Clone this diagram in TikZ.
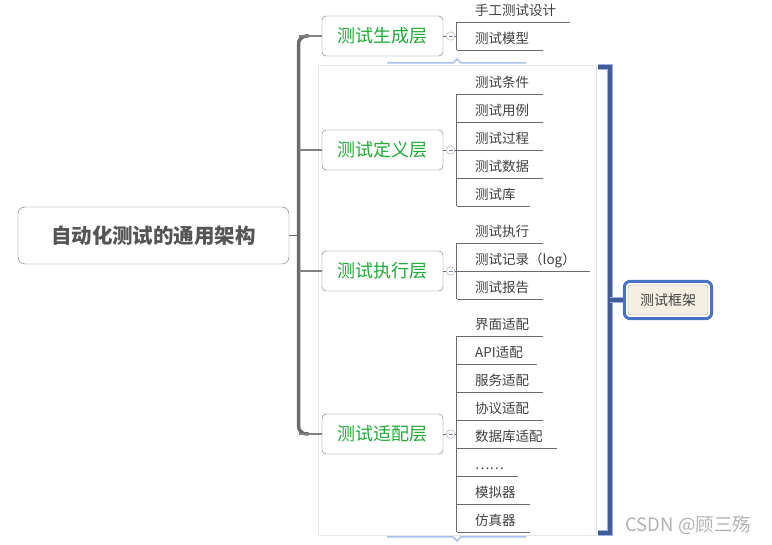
\documentclass[tikz,border=0pt]{standalone}
\usepackage{fontspec}
\setmainfont{Noto Sans CJK SC}
\usepackage{tikz}
\usetikzlibrary{positioning,fit,calc}
\definecolor{inkgray}{HTML}{555555}
\definecolor{leafgray}{HTML}{404040}
\definecolor{layergreen}{HTML}{22AA38}
\definecolor{linegray}{HTML}{6B6B6B}
\definecolor{framegray}{HTML}{E6E6E6}
\definecolor{selblue}{HTML}{A9C1EC}
\definecolor{bracketblue}{HTML}{3F5B9C}
\definecolor{ringblue}{HTML}{4A72C4}
\definecolor{paper}{HTML}{F4EFE3}
\tikzset{
  rootbox/.style={draw=linegray,rounded corners=7pt,fill=white,minimum width=271pt,
                  minimum height=57pt,font=\fontsize{20.5}{24}\selectfont\bfseries,text=inkgray},
  layerbox/.style={draw=linegray,rounded corners=4pt,fill=white,minimum width=121pt,
                   minimum height=40pt,font=\fontsize{18}{22}\selectfont,text=layergreen},
  leaf/.style={anchor=south west,inner xsep=14pt,inner ysep=6.5pt,text depth=0pt,
               font=\fontsize{13.5}{16}\selectfont,text=leafgray},
  fold/.style={circle,draw=gray!70,fill=white,minimum size=8.5pt,inner sep=0pt,
               path picture={\draw[selblue!70!black,line width=0.7pt]
                 ([xshift=-2pt]path picture bounding box.center) -- ([xshift=2pt]path picture bounding box.center);}},
  twig/.style={linegray,line width=0.9pt},
  trunkline/.style={linegray,line width=3.5pt},
  branch/.style={linegray!85,line width=1.6pt},
  sumbox/.style={draw=gray!80,rounded corners=3pt,fill=paper,minimum width=80pt,
                 minimum height=30pt,font=\fontsize{14}{17}\selectfont,text=leafgray},
  sumring/.style={draw=ringblue,line width=3pt,rounded corners=6pt,inner sep=3.5pt},
  brace/.style={bracketblue,line width=4.5pt,line join=miter,
                preaction={draw,ringblue!55,line width=6.5pt}},
}

\begin{document}
\begin{tikzpicture}[x=1pt,y=-1pt]
\useasboundingbox (0,0) rectangle (772,545);

% --- selection frame round the lower three layers ---
\draw[framegray,line width=0.7pt] (318,65) rectangle (596,535);
\draw[selblue,line width=1.5pt] (387,63) -- (453,63) -- (457,59) -- (461,63) -- (526,63);
\draw[selblue,line width=1.5pt] (387,537) -- (453,537) -- (457,541) -- (461,537) -- (526,537);

% --- root and the four layers ---
\node[rootbox] (root) at (153.5,235.5) {自动化测试的通用架构};
\node[layerbox] (gen) at (382.5,36)  {测试生成层};
\node[layerbox] (def) at (382.5,150) {测试定义层};
\node[layerbox] (exe) at (382.5,271) {测试执行层};
\node[layerbox] (ada) at (382.5,434) {测试适配层};

\coordinate (spine) at (298.5,235.5);
\draw[twig] (root.east) -- (spine);
\draw[trunkline,rounded corners=8pt] ($(spine |- gen.west)+(10,0)$) -| (spine) |- ($(spine |- ada.west)+(10,0)$);
\foreach \l in {gen,def,exe,ada}
  \draw[branch] (spine |- \l.west) -- (\l.west);

% --- leaves ---
\foreach \t [count=\i] in {手工测试设计,测试模型}
  \node[leaf] (gen-\i) at (461,{22+28*(\i-1)}) {\t};
\foreach \t [count=\i] in {测试条件,测试用例,测试过程,测试数据,测试库}
  \node[leaf] (def-\i) at (461,{94+28*(\i-1)}) {\t};
\foreach \t [count=\i] in {测试执行,测试记录（log）,测试报告}
  \node[leaf] (exe-\i) at (461,{243+28*(\i-1)}) {\t};
\foreach \t [count=\i] in {界面适配,API适配,服务适配,协议适配,数据库适配,……,模拟器,仿真器}
  \node[leaf] (ada-\i) at (461,{336+28*(\i-1)}) {\t};

\foreach \l/\n in {gen/2,def/5,exe/3,ada/8} {
  \node[fold,right=3pt of \l] (\l-fold) {};
  \coordinate (\l-bus) at ([xshift=6pt]\l-fold.center);
  \draw[twig] (\l.east) -- (\l-fold) (\l-fold) -- (\l-bus);
  \draw[twig] (\l-1.south -| \l-bus) -- (\l-\n.south -| \l-bus);
  \foreach \i in {1,...,\n}
    \draw[twig] (\l-\i.south -| \l-bus) -- (\l-\i.south east);
}

% --- summary bracket ---
\node[sumbox] (fw) at (668,300) {测试框架};
\node[sumring,fit=(fw)] (fw-ring) {};
\coordinate (br-top) at (598,67);
\coordinate (br-bot) at (598,533);
\coordinate (br-mid) at (610,300);
\draw[brace] (br-top) -- ++(12,0) |- (br-bot);
\draw[brace] (br-mid) -- (fw-ring.west);

\node[font=\fontsize{18.5}{22}\selectfont,text=gray!60,anchor=west] (mark) at (622,525) {CSDN @顾三殇};

\end{tikzpicture}
\end{document}
